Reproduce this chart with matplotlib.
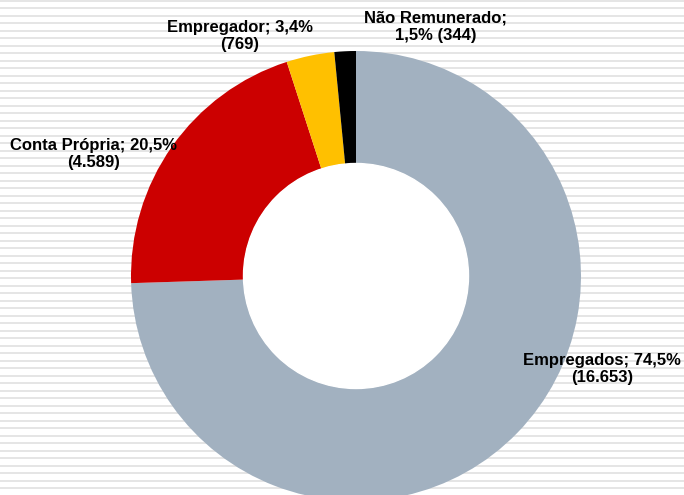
import numpy as np
import matplotlib
matplotlib.use("Agg")
import matplotlib.pyplot as plt

# data
categories = ["Empregados", "Conta Própria", "Empregador", "Não Remunerado"]
values = [16653, 4589, 769, 344]
colors = ["#A2B1C0", "#CC0000", "#FFC000", "#000000"]

plt.rcParams['font.family'] = ['Liberation Sans', 'DejaVu Sans']

W, H = 684, 495
fig = plt.figure(figsize=(W / 100, H / 100), dpi=100)

# striped background
bg = fig.add_axes([0, 0, 1, 1])
bg.set_xlim(0, W)
bg.set_ylim(H, 0)
bg.axis('off')
for y in np.arange(0.8, H, 7.5):
    bg.axhline(y, color="#e0e0e0", lw=1.2)

# pie geometry in pixels
cx, cy, r = 356, 276, 225
ax = fig.add_axes([(cx - r) / W, (H - cy - r) / H, 2 * r / W, 2 * r / H])

wedges, _ = ax.pie(values, colors=colors, startangle=90, counterclock=False,
                   radius=1, wedgeprops=dict(width=0.5, linewidth=0))
ax.set_xlim(-1, 1)
ax.set_ylim(-1, 1)
ax.set_aspect('equal')
ax.axis('off')
# white hole
ax.add_patch(plt.Circle((0, 0), 0.5, color="white", zorder=5))

total = sum(values)

def fmt_int(v):
    return f"{v:,}".replace(",", ".")

def fmt_pct(v):
    return f"{100 * v / total:.1f}%".replace(".", ",")

labels = [
    f"{categories[0]}; {fmt_pct(values[0])}\n({fmt_int(values[0])})",
    f"{categories[1]}; {fmt_pct(values[1])}\n({fmt_int(values[1])})",
    f"{categories[2]}; {fmt_pct(values[2])}\n({fmt_int(values[2])})",
    f"{categories[3]};\n{fmt_pct(values[3])} ({fmt_int(values[3])})",
]
label_px = [(602, 369), (94, 154), (240, 36), (436, 27)]

for lab, (px, py) in zip(labels, label_px):
    ax.text((px - cx) / r, (cy - py) / r, lab, ha='center', va='center',
            fontsize=12, fontweight='bold', color='black', linespacing=1.2,
            zorder=10, clip_on=False)

fig.savefig("out.png", dpi=100)
